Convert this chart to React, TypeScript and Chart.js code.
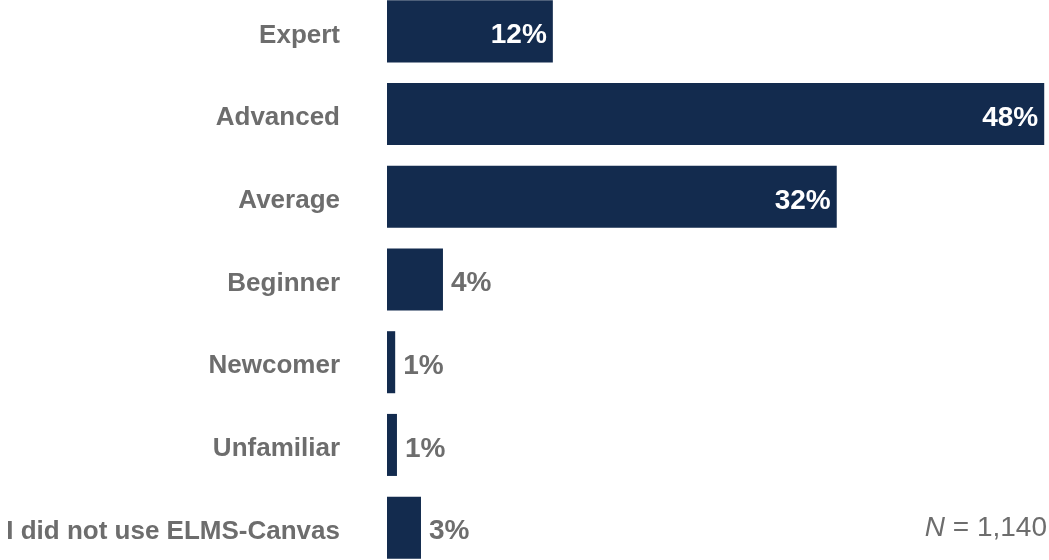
import React, { useEffect, useRef } from "react";
import { Chart, registerables } from "chart.js";

Chart.register(...registerables);

const categories = [
  "Expert",
  "Advanced",
  "Average",
  "Beginner",
  "Newcomer",
  "Unfamiliar",
  "I did not use ELMS-Canvas",
];
const values = [12.15, 48.15, 32.95, 4.1, 0.6, 0.73, 2.49];
const valueLabels = ["12%", "48%", "32%", "4%", "1%", "1%", "3%"];
const labelInside = [true, true, true, false, false, false, false];
const sampleNote = { italic: "N", rest: " = 1,140" };

const BAR = "#132B4E";
const GREY = "#6d6d6d";
const FAMILY = "'Liberation Sans', Arial, sans-serif";

const labelPlugin = {
  id: "valueLabels",
  afterDatasetsDraw(chart: any) {
    const ctx = chart.ctx;
    const meta = chart.getDatasetMeta(0);
    ctx.save();
    ctx.font = `bold 28px ${FAMILY}`;
    ctx.textBaseline = "middle";
    meta.data.forEach((bar: any, i: number) => {
      const y = bar.y + 4;
      if (labelInside[i]) {
        ctx.fillStyle = "#ffffff";
        ctx.textAlign = "right";
        ctx.fillText(valueLabels[i], bar.x - 6, y);
      } else {
        ctx.fillStyle = GREY;
        ctx.textAlign = "left";
        ctx.fillText(valueLabels[i], bar.x + 8, y);
      }
    });
    // sample size note
    const ny = chart.scales.y.getPixelForValue(categories.length - 1) + 1;
    const right = chart.chartArea.right - 2;
    ctx.font = `28px ${FAMILY}`;
    ctx.fillStyle = GREY;
    ctx.textAlign = "right";
    ctx.fillText(sampleNote.rest, right, ny);
    const restW = ctx.measureText(sampleNote.rest).width;
    ctx.font = `italic 28px ${FAMILY}`;
    ctx.fillText(sampleNote.italic, right - restW, ny);
    ctx.restore();
  },
};

export default function App() {
  const ref = useRef<HTMLCanvasElement>(null);
  useEffect(() => {
    if (!ref.current) return;
    const chart = new Chart(ref.current, {
      type: "bar",
      data: {
        labels: categories,
        datasets: [
          {
            data: values,
            backgroundColor: BAR,
            borderWidth: 0,
            barPercentage: 0.75,
            categoryPercentage: 1,
          },
        ],
      },
      options: {
        indexAxis: "y",
        responsive: false,
        maintainAspectRatio: false,
        animation: false,
        layout: { padding: 0 },
        plugins: {
          legend: { display: false },
          tooltip: { enabled: false },
          title: { display: false },
        },
        scales: {
          x: {
            display: false,
            min: 0,
            max: 48.5,
          },
          y: {
            grid: { display: false, drawTicks: false },
            border: { display: false },
            ticks: {
              color: GREY,
              padding: 47,
              labelOffset: 4,
              font: { family: FAMILY, size: 26, weight: "bold" },
            },
            afterFit(scale: any) {
              scale.width = 387;
              scale.paddingTop = 0;
              scale.paddingBottom = 0;
            },
          },
        },
      },
      plugins: [labelPlugin],
    });
    return () => chart.destroy();
  }, []);

  return (
    <div
      style={{
        position: "fixed",
        left: 0,
        top: 0,
        width: 1049,
        height: 560,
        overflow: "hidden",
        background: "#ffffff",
      }}
    >
      <canvas
        ref={ref}
        width={1049}
        height={579}
        style={{ position: "absolute", left: 0, top: -10, width: 1049, height: 579 }}
      />
    </div>
  );
}
